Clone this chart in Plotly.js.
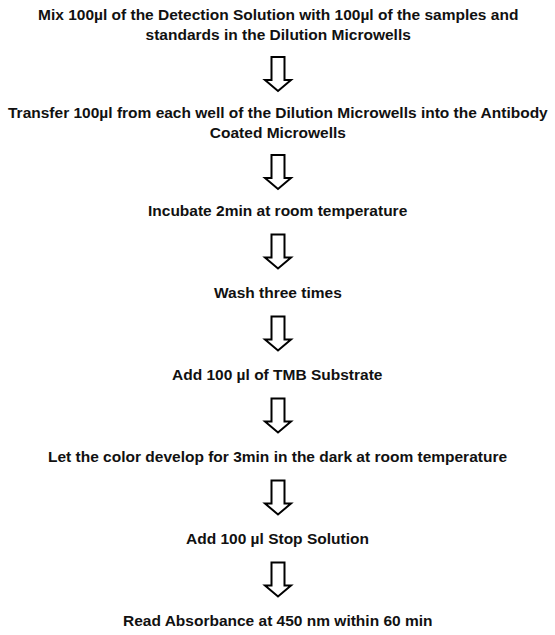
<!DOCTYPE html>
<html>
<head>
<meta charset="utf-8">
<script src="https://cdn.plot.ly/plotly-3.0.1.min.js"></script>
<style>html,body{margin:0;padding:0;background:#fff;}#chart{width:555px;height:635px;}</style>
</head>
<body>
<div id="chart"></div>
<script>
// ---- data ----
const steps = [
  "Mix 100µl of the Detection Solution with 100µl of the samples and<br>standards in the Dilution Microwells",
  "Transfer 100µl from each well of the Dilution Microwells into the Antibody<br>Coated Microwells",
  "Incubate 2min at room temperature",
  "Wash three times",
  "Add 100 µl of TMB Substrate",
  "Let the color develop for 3min in the dark at room temperature",
  "Add 100 µl Stop Solution",
  "Read Absorbance at 450 nm within 60 min"
];

// ---- layout constants ----
const W = 555, H = 635;
const cx = 277.5;
const firstY = 14;       // centre of first text line
const lineH = 21;        // line spacing
const pitchMulti = 77;   // last line of a multi-line step -> next first line
const pitchSingle = 82;  // single-line step -> next step
const shaftLen = 23, headLen = 11, shaftHW = 6.5, headHW = 13;
const arrowLen = shaftLen + headLen;
const fontSize = 15.5;

const annotations = [];
const shapes = [];
let y = firstY;
steps.forEach((s, i) => {
  const n = s.split("<br>").length;
  const center = y + (n - 1) * lineH / 2;
  annotations.push({
    x: cx, y: center, xref: "x", yref: "y",
    text: "<b>" + s + "</b>", showarrow: false,
    xanchor: "center", yanchor: "middle", align: "center",
    font: {family: "Liberation Sans, Arial, sans-serif", size: fontSize, color: "#111"}
  });
  const last = y + (n - 1) * lineH;
  const pitch = n > 1 ? pitchMulti : pitchSingle;
  if (i < steps.length - 1) {
    const t = last + (pitch - arrowLen) / 2 + 0.5;
    const hb = t + shaftLen;
    const tip = hb + headLen;
    const ax = cx + 0.5;
    shapes.push({
      type: "path", xref: "x", yref: "y",
      path: `M ${ax - shaftHW} ${t} L ${ax + shaftHW} ${t} L ${ax + shaftHW} ${hb} L ${ax + headHW} ${hb} L ${ax} ${tip} L ${ax - headHW} ${hb} L ${ax - shaftHW} ${hb} Z`,
      fillcolor: "#fff", line: {color: "#000", width: 2}
    });
  }
  y = last + pitch;
});

const layout = {
  width: W, height: H,
  margin: {l: 0, r: 0, t: 0, b: 0},
  paper_bgcolor: "#fff", plot_bgcolor: "#fff",
  showlegend: false,
  xaxis: {range: [0, W], visible: false, fixedrange: true},
  yaxis: {range: [H, 0], visible: false, fixedrange: true},
  annotations: annotations,
  shapes: shapes
};
Plotly.newPlot("chart", [], layout, {staticPlot: true, displayModeBar: false});
</script>
</body>
</html>
